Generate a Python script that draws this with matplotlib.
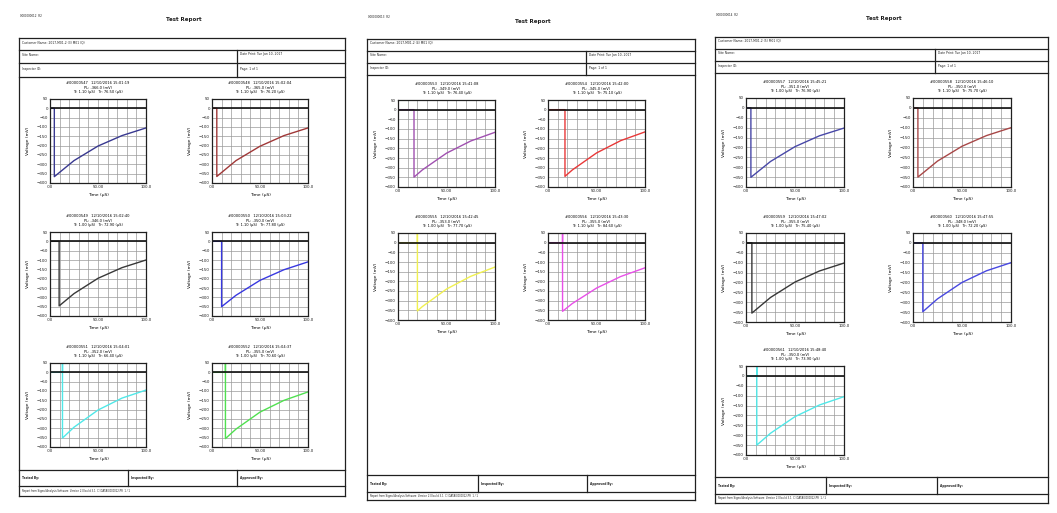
import matplotlib
matplotlib.use('Agg')
import matplotlib.pyplot as plt
from matplotlib.lines import Line2D
from matplotlib.ticker import MultipleLocator, FixedLocator

W, H = 1057, 513

# one entry per trace, pages read left to right, plots row by row
trace_page = [0, 0, 0, 0, 0, 0, 1, 1, 1, 1, 2, 2, 2, 2, 2]
trace_colors = ['#383890', '#a03838', '#383838', '#3838e0', '#50e8e8', '#50e050',
                '#a050b0', '#e83838', '#f0f050', '#e850e8',
                '#4848a8', '#a84848', '#383838', '#4848e0', '#50e8e8']
drop_t = [4.5, 5, 9.5, 10, 13, 14, 16.5, 17.5, 20, 15, 5, 5, 6, 10, 11]
v_min = [-366, -365, -346, -350, -352, -355, -349, -345, -353, -355, -351, -350, -355, -348, -350]
v_25 = [-280, -280, -280, -289, -294, -304, -312, -312, -331, -315, -271, -269, -276, -283, -290]
v_50 = [-202, -203, -198, -209, -202, -213, -225, -224, -240, -235, -196, -194, -198, -200, -206]
v_75 = [-146, -146, -141, -152, -138, -150, -162, -160, -174, -175, -141, -140, -142, -141, -147]
v_100 = [-105, -105, -100, -110, -95, -105, -117, -115, -126, -130, -102, -100, -102, -100, -105]
spike = [False, False, False, False, True, True, False, False, True, True,
         False, False, False, False, True]
rise_t = [1.10, 1.10, 1.00, 1.10, 1.10, 1.00, 1.10, 1.10, 1.00, 1.10, 1.00, 1.10, 1.00, 1.00, 1.00]
tail_t = [76.50, 76.20, 72.90, 77.80, 66.40, 70.60, 76.40, 75.10, 77.70, 84.60, 76.90, 75.70, 75.40, 72.20, 73.90]
stamps = ['15:01:19', '15:02:04', '15:02:40', '15:03:22', '15:04:01', '15:04:37',
          '15:41:08', '15:42:00', '15:42:45', '15:43:30',
          '15:45:21', '15:46:10', '15:47:02', '15:47:55', '15:48:40']

# page frames (pixels)
page_left = [19, 367, 715]
page_right = [345, 695, 1048]
page_top = [38, 39, 37]
page_rows = [[50, 63, 77], [51, 63, 75], [49, 61, 73]]
page_split = [237, 586, 935]
page_foot = [[470, 486, 496], [475, 492, 500], [477, 494, 503]]
foot_cols = [[128, 237], [478, 587], [826, 937]]
page_ids = ['0000000012  R2', '0000000013  R2', '0000000014  R2']
customers = ['Customer Name: 2017-M01-2 (3) M01 (Q)', 'Customer Name: 2017-M01-2 (4) M01 (Q)',
             'Customer Name: 2017-M01-2 (5) M01 (Q)']

# plot grid per page (pixels)
col_left = [[50, 212], [398, 548], [746, 913]]
row_top = [[99, 232, 363], [100, 233], [98, 233, 366]]
ax_w = [96, 97, 98]
ax_h = [84, 87, 89]

fig = plt.figure(figsize=(W / 100, H / 100), dpi=100)
fig.patch.set_facecolor('white')


def fx(px):
    return px / W


def fy(py):
    return 1 - py / H


def hline(x0, x1, y, lw=0.9):
    fig.add_artist(Line2D([fx(x0), fx(x1)], [fy(y), fy(y)], transform=fig.transFigure,
                          color='#202020', lw=lw))


def vline(x, y0, y1, lw=0.9):
    fig.add_artist(Line2D([fx(x), fx(x)], [fy(y0), fy(y1)], transform=fig.transFigure,
                          color='#202020', lw=lw))


def label(x, y, s, size=2.2, **kw):
    fig.text(fx(x), fy(y), s, fontsize=size, va='center', color='#202020', **kw)


for p in range(3):
    L, R, T = page_left[p], page_right[p], page_top[p]
    r1, r2, r3 = page_rows[p]
    f1, f2, f3 = page_foot[p]
    mid = (L + R) / 2
    label(L + 1, T - 22, page_ids[p], size=2.0)
    label(mid + 2, T - 18, 'Test Report', size=4.0, ha='center', weight='bold')
    # outer frame
    hline(L, R, T)
    hline(L, R, f3)
    vline(L, T, f3)
    vline(R, T, f3)
    # header rows
    for y in (r1, r2, r3):
        hline(L, R, y)
    vline(page_split[p], r1, r3)
    label(L + 3, (T + r1) / 2 - 2, customers[p])
    label(L + 3, (r1 + r2) / 2 - 2, 'Site Name:')
    label(L + 3, (r2 + r3) / 2 - 1, 'Inspector ID:')
    label(page_split[p] + 3, (r1 + r2) / 2 - 2, 'Date Print: Tue Jan 10, 2017')
    label(page_split[p] + 3, (r2 + r3) / 2 - 1, 'Page: 1 of 1')
    # footer
    hline(L, R, f1)
    hline(L, R, f2)
    for x in foot_cols[p]:
        vline(x, f1, f2)
    label(L + 3, (f1 + f2) / 2, 'Tested By:', weight='bold')
    label(foot_cols[p][0] + 3, (f1 + f2) / 2, 'Inspected By:', weight='bold')
    label(foot_cols[p][1] + 3, (f1 + f2) / 2, 'Approved By:', weight='bold')
    label(L + 3, (f2 + f3) / 2, 'Report from Signal Analysis Software  Version 2.0 build 3.1  C:\\DATA\\0000012.PR  1 / 1', size=1.8)

slot = [0, 0, 0]
for i in range(len(trace_page)):
    p = trace_page[i]
    k = slot[p]
    slot[p] += 1
    left = col_left[p][k % 2]
    top = row_top[p][k // 2]
    ax = fig.add_axes([fx(left), fy(top + ax_h[p]), ax_w[p] / W, ax_h[p] / H])
    t0 = drop_t[i]
    if spike[i]:
        ts = [0, t0, t0, t0, 25, 50, 75, 100]
        vs = [0, 0, 50, v_min[i], v_25[i], v_50[i], v_75[i], v_100[i]]
    else:
        ts = [0, t0, t0, 25, 50, 75, 100]
        vs = [0, 0, v_min[i], v_25[i], v_50[i], v_75[i], v_100[i]]
    ax.plot(ts, vs, color=trace_colors[i], lw=1.0, zorder=2, clip_on=True)
    ax.axhline(0, color='#111111', lw=1.2, zorder=2.5)
    ax.set_xlim(0, 100)
    ax.set_ylim(-400, 50)
    ax.xaxis.set_major_locator(FixedLocator([0, 50, 100]))
    ax.xaxis.set_minor_locator(MultipleLocator(10))
    ax.yaxis.set_major_locator(MultipleLocator(50))
    ax.set_xticklabels(['.00', '50.00', '100.0'])
    ax.grid(True, which='both', color='#9a9a9a', lw=0.5)
    ax.set_axisbelow(True)
    ax.tick_params(which='both', length=0, labelsize=2.9, pad=1.5, colors='#202020')
    for s in ax.spines.values():
        s.set_linewidth(0.9)
        s.set_color('#202020')
    ax.set_xlabel('Time (µS)', fontsize=3.2, labelpad=3)
    ax.set_ylabel('Voltage (mV)', fontsize=3.2, labelpad=5)
    ax.set_title('#0000%04d   12/10/2016 %s\nPL: %.1f (mV)\nTf: %.2f (µS)   Tr: %.2f (µS)'
                 % (547 + i, stamps[i], v_min[i], rise_t[i], tail_t[i]),
                 fontsize=2.6, pad=4, linespacing=1.2)

fig.savefig('out.png', dpi=100, facecolor='white')
